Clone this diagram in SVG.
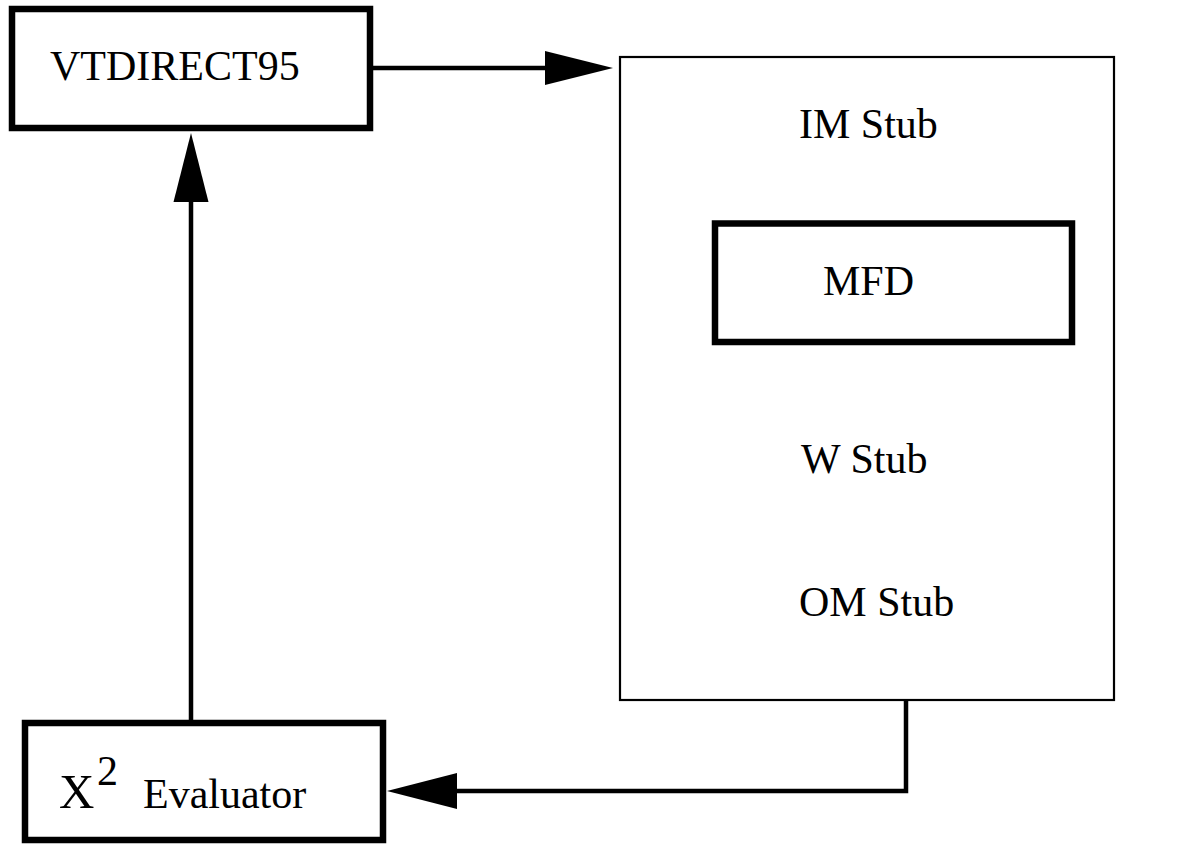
<svg xmlns="http://www.w3.org/2000/svg" width="1195" height="844" viewBox="0 0 1195 844">
<style>
.box{fill:#fff;stroke:#000;stroke-width:6.5}
.big{fill:#fff;stroke:#000;stroke-width:2.2}
text{font-family:'Liberation Serif','Times New Roman',Times,'DejaVu Serif',serif;font-size:42px;fill:#000}
.ln{fill:none;stroke:#000;stroke-width:4.5}
.ah{fill:#000;stroke:none}
</style>
<rect width="1195" height="844" fill="#fff"/>
<g id="container">
<rect class="big" x="620" y="57" width="494" height="643"/>
<text x="799" y="138">IM Stub</text>
<text x="801" y="473">W Stub</text>
<text x="799" y="616">OM Stub</text>
</g>
<g id="mfd">
<rect class="box" x="715" y="223.5" width="357" height="118.5"/>
<text x="823" y="295">MFD</text>
</g>
<g id="vtdirect95">
<rect class="box" x="12" y="9" width="358" height="119"/>
<text x="50" y="80">VTDIRECT95</text>
</g>
<g id="evaluator">
<rect class="box" x="25" y="723" width="358" height="117"/>
<text x="59" y="808" style="font-size:49px">X</text>
<text x="97" y="785" style="font-size:42px">2</text>
<text x="143" y="808">Evaluator</text>
</g>
<g id="connectors">
<line class="ln" x1="373" y1="68" x2="548" y2="68"/>
<polygon class="ah" points="545,51 613,68 545,85"/>
<line class="ln" x1="191" y1="720" x2="191" y2="198"/>
<polygon class="ah" points="173.5,202 191,133 208.5,202"/>
<polyline class="ln" points="906,700 906,791 454,791"/>
<polygon class="ah" points="457,773 387,791 457,809"/>
</g>
</svg>
